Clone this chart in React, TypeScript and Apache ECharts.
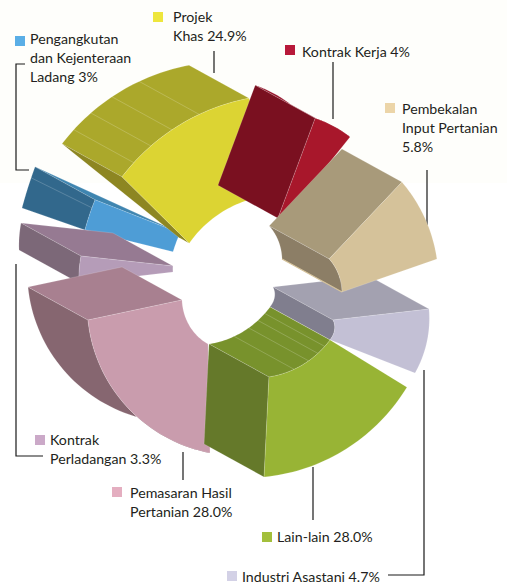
import React, { useEffect, useRef } from "react";
import * as echarts from "echarts";

// Slices in painter's order (back to front)
const categories = ["Pengangkutan dan Kejenteraan Ladang", "Projek Khas", "Kontrak Kerja", "Industri Asastani", "Pembekalan Input Pertanian", "Kontrak Perladangan", "Pemasaran Hasil Pertanian", "Lain-lain"];
const shares = [3, 24.9, 4, 4.7, 5.8, 3.3, 28.0, 28.0];
const faceColors = ["#4e9dd6", "#dcd433", "#a8172b", "#c3c0d5", "#d5c29a", "#b59cb8", "#c99cad", "#98b435"];

// The printed shares are not proportional to the drawn sweeps, so the drawn
// ring geometry is read off the picture: [cx, cy, rOut0, rOut1, aOut0, aOut1, rIn0, rIn1, aIn0, aIn1]
const ringGeometry = [
  [330, 291, 252.5, 252, 194, 201.2, 161.8, 160.8, 194, 201.1],
  [291, 301, 209.7, 207, 216.3, 258.3, 117, 106, 209.6, 265],
  [275, 235, 123.5, 123.5, 289, 307.4, 17, 17, 280, 300],
  [319, 318.5, 110.4, 110.4, -4.9, 29.6, 14, 24, 6, 62.9],
  [286.5, 281, 152, 152, 319.4, 351.7, 48, 56.6, 332.6, 371.2],
  [200, 269, 121.8, 119.7, 173.4, 186.2, 27.2, 27.2, 173.7, 186.3],
  [238, 304.8, 150.8, 150.8, 100.7, 174.2, 49.4, 56.2, 127.4, 184.9],
  [245.7, 289.5, 188.5, 188.4, 31.2, 84.4, 98.3, 90.5, 30.9, 75.1],
];
const depth = [-60, -33];
type Wall = { side: "a" | "b" | "outer" | "inner" | "rim"; color: string; k?: number; creases?: number[]; d0?: number[] };
const walls: Wall[][] = [
  [{ side: "b", color: "#3f85b0", k: 0 }, { side: "outer", color: "#32688c", creases: [0.73], d0: [-63, -22] }],
  [{ side: "outer", color: "#aba82b", creases: [0.12, 0.276, 0.45, 0.655] }, { side: "a", color: "#8d8622", k: 0.18 }],
  [{ side: "outer", color: "#96162c" }, { side: "a", color: "#7a1020" }],
  [{ side: "a", color: "#a3a1b0" }, { side: "inner", color: "#807e8e" }],
  [{ side: "a", color: "#a89a7a" }, { side: "inner", color: "#8c7e66" }, { side: "rim", color: "#d5c29a" }],
  [{ side: "b", color: "#967a92" }, { side: "outer", color: "#7c6878" }],
  [{ side: "outer", color: "#866670" }, { side: "b", color: "#a88090" }],
  [{ side: "inner", color: "#78922c", creases: [0.11, 0.24, 0.4, 0.63] }, { side: "b", color: "#65792a" }],
];

// Label blocks
const labelTexts = [
  ["Pengangkutan", "dan Kejenteraan", "Ladang 3%"],
  ["Projek", "Khas 24.9%"],
  ["Kontrak Kerja 4%"],
  ["Industri Asastani 4.7%"],
  ["Pembekalan", "Input Pertanian", "5.8%"],
  ["Kontrak", "Perladangan 3.3%"],
  ["Pemasaran Hasil", "Pertanian 28.0%"],
  ["Lain-lain 28.0%"],
];
const markerColors = ["#5aaee6", "#eee63c", "#b8193a", "#d3d1e6", "#ecd5a8", "#cba9c8", "#e4aec0", "#a3bf3c"];
// [markerX, markerY, textX, firstLineY]
const labelPlaces = [
  [15, 36, 30, 38],
  [153, 12, 173, 16],
  [285, 45, 302, 51],
  [227, 571, 242, 576],
  [385, 103, 402, 108],
  [35, 435, 50, 439],
  [112, 487, 130, 492],
  [262, 532, 277, 536],
];
const leaderLines = [
  [[25, 64], [16, 64], [16, 170], [29, 170]],
  [[214, 51], [214, 73]],
  [[333, 62], [333, 119]],
  [[424, 370], [424, 575], [388, 575]],
  [[427, 170], [427, 225]],
  [[16, 264], [16, 456], [43, 456]],
  [[183, 452], [183, 480]],
  [[313, 467], [313, 520]],
];

const arc = (cx: number, cy: number, r0: number, r1: number, a0: number, a1: number, t0 = 0, t1 = 1) => {
  const pts: number[][] = [];
  const n = 36;
  for (let i = 0; i <= n; i++) {
    const t = t0 + ((t1 - t0) * i) / n;
    const r = r0 + (r1 - r0) * t;
    const a = ((a0 + (a1 - a0) * t) * Math.PI) / 180;
    pts.push([cx + r * Math.cos(a), cy + r * Math.sin(a)]);
  }
  return pts;
};
const shift = (p: number[], k = 1) => [p[0] + depth[0] * k, p[1] + depth[1] * k];
const shiftVar = (p: number[], t: number, d0?: number[]) => {
  if (!d0) return shift(p);
  return [p[0] + d0[0] + (depth[0] - d0[0]) * t, p[1] + d0[1] + (depth[1] - d0[1]) * t];
};

const renderSlice = (_params: any, api: any) => {
  const i = api.value(0);
  const [cx, cy, ro0, ro1, ao0, ao1, ri0, ri1, ai0, ai1] = ringGeometry[i];
  const outer = arc(cx, cy, ro0, ro1, ao0, ao1);
  const inner = arc(cx, cy, ri0, ri1, ai0, ai1);
  const children: any[] = [];
  const edge = { stroke: "rgba(255,255,255,0.3)", lineWidth: 0.5 };
  walls[i].forEach((w) => {
    if (w.side === "rim") {
      const n = inner[inner.length - 1];
      const q = shift(n);
      children.push({
        type: "line",
        shape: { x1: n[0], y1: n[1], x2: q[0], y2: q[1] },
        style: { stroke: w.color, lineWidth: 1.2 },
      });
      return;
    }
    let points: number[][];
    if (w.side === "outer" || w.side === "inner") {
      const base = w.side === "outer" ? outer : inner;
      points = [...base, ...base.map((p, j) => shiftVar(p, j / (base.length - 1), w.d0)).reverse()];
    } else {
      const o = w.side === "a" ? outer[0] : outer[outer.length - 1];
      const n = w.side === "a" ? inner[0] : inner[inner.length - 1];
      points = [o, shift(o), shift(n, w.k ?? 1), n];
    }
    children.push({ type: "polygon", shape: { points }, style: { fill: w.color, ...edge } });
    (w.creases || []).forEach((t) => {
      const p = w.side === "outer"
        ? arc(cx, cy, ro0, ro1, ao0, ao1, t, t)[0]
        : arc(cx, cy, ri0, ri1, ai0, ai1, t, t)[0];
      const q = shiftVar(p, t, w.d0);
      children.push({
        type: "line",
        shape: { x1: p[0], y1: p[1], x2: q[0], y2: q[1] },
        style: { stroke: "rgba(255,255,255,0.28)", lineWidth: 0.7 },
      });
    });
  });
  children.push({
    type: "polygon",
    shape: { points: [...outer, ...[...inner].reverse()] },
    style: { fill: api.value(2), ...edge },
  });
  return { type: "group", children };
};

const FONT = 'Lato, "Open Sans", sans-serif';

export default function App() {
  const ref = useRef<HTMLDivElement>(null);
  useEffect(() => {
    document.body.style.margin = "0";
    const chart = echarts.init(ref.current!, null, { renderer: "svg" });
    const graphics: any[] = [
      { type: "rect", z: -10, shape: { x: 0, y: 0, width: 507, height: 183 }, style: { fill: "#fefefb" } },
    ];
    leaderLines.forEach((pts) => {
      graphics.push({ type: "polyline", z: 1, shape: { points: pts }, style: { stroke: "#1a1a1a", lineWidth: 1.2, fill: "none" } });
    });
    labelTexts.forEach((lines, i) => {
      const [mx, my, tx, ty] = labelPlaces[i];
      graphics.push({ type: "rect", z: 5, shape: { x: mx, y: my, width: 10, height: 10 }, style: { fill: markerColors[i] } });
      lines.forEach((line, j) => {
        graphics.push({
          type: "text",
          z: 5,
          x: tx,
          y: ty + j * 19,
          style: { text: line, fill: "#231f20", font: `14.2px ${FONT}`, lineHeight: 14, verticalAlign: "middle", align: "left" },
        });
      });
    });
    chart.setOption({
      animation: false,
      backgroundColor: "#ffffff",
      graphic: graphics,
      series: [
        {
          type: "custom",
          coordinateSystem: "none",
          silent: true,
          z: 2,
          renderItem: renderSlice,
          encode: { value: 1 },
          data: shares.map((s, i) => ({ name: categories[i], value: [i, s, faceColors[i]] })),
        },
      ],
    });
    return () => chart.dispose();
  }, []);
  return <div ref={ref} style={{ position: "fixed", left: 0, top: 0, width: 507, height: 583 }} />;
}
